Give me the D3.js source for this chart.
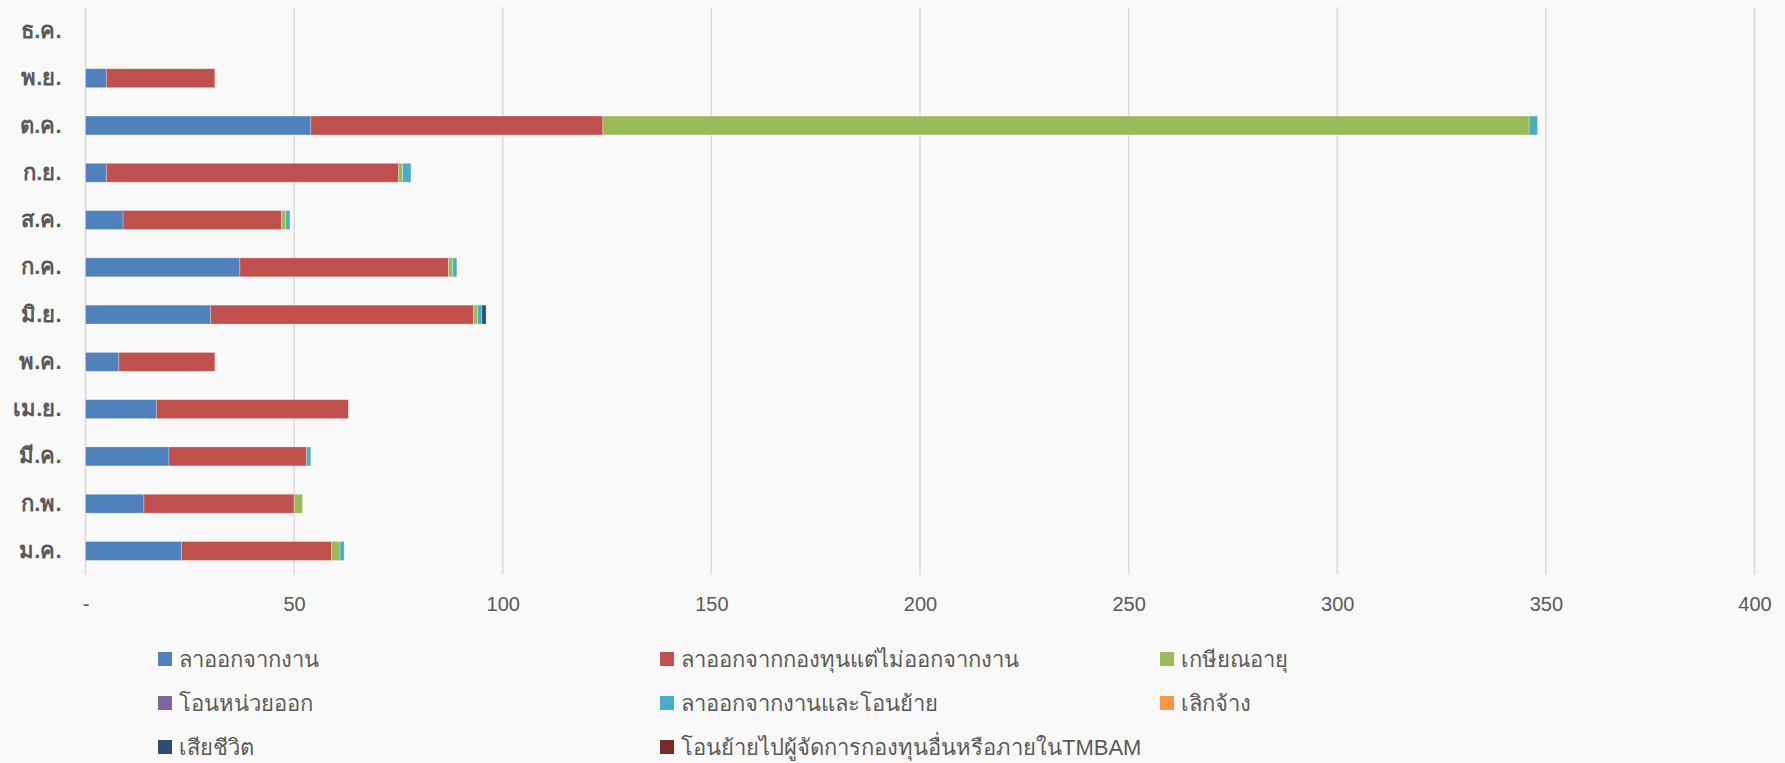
<!DOCTYPE html>
<html><head><meta charset="utf-8">
<script src="https://cdn.jsdelivr.net/npm/d3@7/dist/d3.min.js"></script>
<style>
html,body{margin:0;padding:0;background:#F9F9F9;}
svg{display:block;}
text{font-family:"Liberation Sans","Noto Sans",sans-serif;fill:#595959;}
</style></head>
<body>
<svg id="chart" width="1785" height="763"></svg>
<script>
const months = ["ม.ค.","ก.พ.","มี.ค.","เม.ย.","พ.ค.","มิ.ย.","ก.ค.","ส.ค.","ก.ย.","ต.ค.","พ.ย.","ธ.ค."];
const seriesNames = ["ลาออกจากงาน","ลาออกจากกองทุนแต่ไม่ออกจากงาน","เกษียณอายุ","โอนหน่วยออก","ลาออกจากงานและโอนย้าย","เลิกจ้าง","เสียชีวิต","โอนย้ายไปผู้จัดการกองทุนอื่นหรือภายในTMBAM"];
const resignJob      = [23,14,20,17, 8,30,37, 9, 5, 54, 5,0];
const resignFund     = [36,36,33,46,23,63,50,38,70, 70,26,0];
const retire         = [ 2, 2, 0, 0, 0, 1, 1, 1, 1,222, 0,0];
const transferOut    = [ 0, 0, 0, 0, 0, 0, 0, 0, 0,  0, 0,0];
const resignTransfer = [ 1, 0, 1, 0, 0, 1, 1, 1, 2,  2, 0,0];
const dismissed      = [ 0, 0, 0, 0, 0, 0, 0, 0, 0,  0, 0,0];
const deceased       = [ 0, 0, 0, 0, 0, 1, 0, 0, 0,  0, 0,0];
const movedManager   = [ 0, 0, 0, 0, 0, 0, 0, 0, 0,  0, 0,0];
const xTicks = [0,50,100,150,200,250,300,350,400];
const colors = ["#4F81BD","#C0504D","#9BBB59","#8064A2","#4BACC6","#F79646","#2C4D75","#772C2A"];

const seriesValues = [resignJob,resignFund,retire,transferOut,resignTransfer,dismissed,deceased,movedManager];
const rows = months.map((m,i)=>{const o={month:m}; seriesNames.forEach((s,j)=>o[s]=seriesValues[j][i]); return o;});
const stack = d3.stack().keys(seriesNames)(rows);

const svg = d3.select("#chart");
const pLeft = 85.5, pRight = 1754.5, pTop = 7.3, pBottom = 574.6;
const x = d3.scaleLinear().domain([0,400]).range([pLeft,pRight]);
const y = d3.scaleBand().domain(months.slice().reverse()).range([pTop,pBottom]).paddingInner(0.6).paddingOuter(0.3);
const color = d3.scaleOrdinal().domain(seriesNames).range(colors);

// gridlines
svg.append("g").selectAll("line").data(xTicks).join("line")
  .attr("x1",d=>x(d)).attr("x2",d=>x(d)).attr("y1",pTop).attr("y2",pBottom)
  .attr("stroke","#D9D9D9").attr("stroke-width",1.5);

// bars
svg.append("g").selectAll("g").data(stack).join("g")
  .attr("fill",d=>color(d.key))
  .selectAll("rect").data(d=>d.filter(p=>p[1]-p[0]>0)).join("rect")
  .attr("x",d=>x(d[0])).attr("width",d=>x(d[1])-x(d[0]))
  .attr("y",d=>y(d.data.month)).attr("height",y.bandwidth())
  .attr("stroke","#ffffff").attr("stroke-opacity",0.35).attr("stroke-width",0.8);

// x axis
const xAxis = svg.append("g").attr("transform",`translate(0,${pBottom})`)
  .call(d3.axisBottom(x).tickValues(xTicks).tickSize(0).tickPadding(22).tickFormat(d=>d===0?"-":d));
xAxis.select(".domain").remove();
xAxis.selectAll("text").style("font-size","20px").attr("fill","#595959");

// y axis
const yAxis = svg.append("g").attr("transform",`translate(${pLeft},0)`)
  .call(d3.axisLeft(y).tickSize(0).tickPadding(24));
yAxis.select(".domain").remove();
yAxis.selectAll("text").style("font-size","22px").style("font-weight","bold").attr("fill","#595959");

// legend
const legCols = [158, 660, 1160];
const legRows = [659, 703, 747];
const leg = svg.append("g").selectAll("g").data(seriesNames).join("g")
  .attr("transform",(d,i)=>`translate(${legCols[i%3]},${legRows[Math.floor(i/3)]})`);
leg.append("rect").attr("x",0).attr("y",-7).attr("width",14).attr("height",14).attr("fill",d=>color(d));
leg.append("text").attr("x",21).attr("y",0).attr("dy","0.35em").style("font-size","22px").text(d=>d);
</script>
</body></html>
